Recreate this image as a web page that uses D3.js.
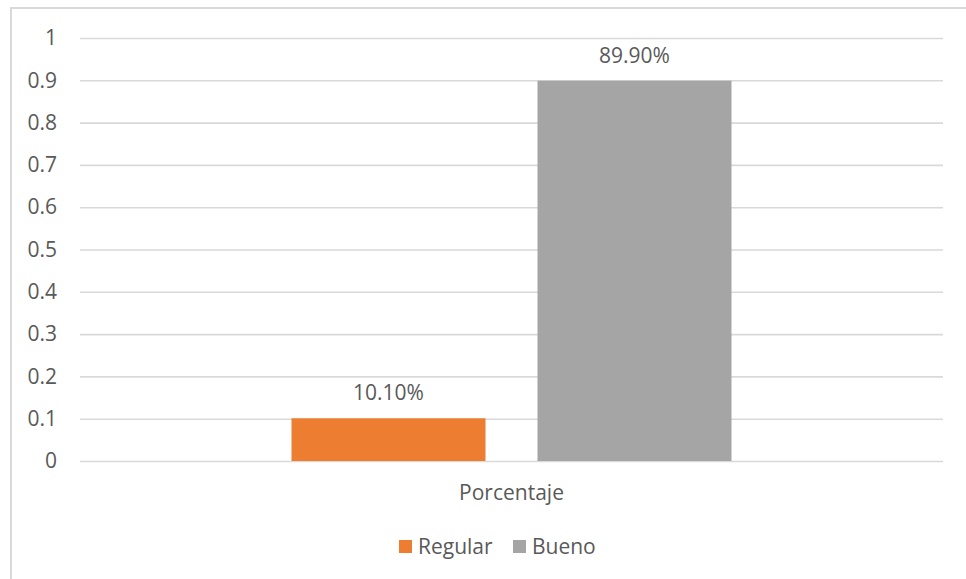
<!DOCTYPE html>
<html>
<head>
<meta charset="utf-8">
<script src="https://cdn.jsdelivr.net/npm/d3@7"></script>
<style>
  html, body { margin: 0; padding: 0; background: #fff; }
  svg { display: block; }
  text { font-family: "Open Sans", sans-serif; fill: #595959; }
</style>
</head>
<body>
<div id="chart"></div>
<script>
const categories = ["Porcentaje"];
const seriesNames = ["Regular", "Bueno"];
const seriesValues = [0.101, 0.899];
const seriesColors = ["#ED7D31", "#A5A5A5"];
const yTicks = [0, 0.1, 0.2, 0.3, 0.4, 0.5, 0.6, 0.7, 0.8, 0.9, 1];

const W = 966, H = 579;
const margin = { left: 80, right: 23, top: 38, bottom: 118 };
const FS = 21;

const svg = d3.select("#chart").append("svg").attr("width", W).attr("height", H);

// chart border
svg.append("rect")
  .attr("x", 11).attr("y", 8).attr("width", 970).attr("height", 600)
  .attr("fill", "none").attr("stroke", "#d9d9d9").attr("stroke-width", 2);

const y = d3.scaleLinear().domain([0, 1]).range([H - margin.bottom, margin.top]);
const x0 = d3.scaleBand().domain(categories)
  .range([margin.left, W - margin.right]).paddingInner(0).paddingOuter(0.4807);
const x1 = d3.scaleBand().domain(seriesNames)
  .range([0, x0.bandwidth()]).paddingInner(0.2114).paddingOuter(0);

// gridlines
const yAxis = d3.axisLeft(y).tickValues(yTicks)
  .tickSize(-(W - margin.right - margin.left))
  .tickFormat(d => String(d)).tickPadding(23);
const gy = svg.append("g").attr("transform", `translate(${margin.left},0)`).call(yAxis);
gy.select(".domain").remove();
gy.selectAll(".tick line").attr("stroke", "#d9d9d9").attr("stroke-width", 1.6);
gy.selectAll(".tick text").attr("font-size", FS).attr("fill", "#595959")
  .style("font-family", "'Open Sans', sans-serif");

// bars
const data = seriesNames.map((s, i) => ({ cat: categories[0], name: s, value: seriesValues[i], color: seriesColors[i] }));
svg.append("g").selectAll("rect").data(data).join("rect")
  .attr("x", d => x0(d.cat) + x1(d.name))
  .attr("y", d => y(d.value))
  .attr("width", x1.bandwidth())
  .attr("height", d => y(0) - y(d.value))
  .attr("fill", d => d.color);

// data labels
svg.append("g").selectAll("text").data(data).join("text")
  .attr("x", d => x0(d.cat) + x1(d.name) + x1.bandwidth() / 2)
  .attr("y", d => y(d.value) - 18)
  .attr("text-anchor", "middle")
  .attr("font-size", FS)
  .text(d => (d.value * 100).toFixed(2) + "%");

// x axis label
const xAxis = d3.axisBottom(x0).tickSize(0).tickPadding(24);
const gx = svg.append("g").attr("transform", `translate(0,${y(0)})`).call(xAxis);
gx.select(".domain").remove();
gx.selectAll(".tick text").attr("font-size", FS).attr("fill", "#595959")
  .style("font-family", "'Open Sans', sans-serif");

// legend
const legendItems = [
  { name: seriesNames[0], color: seriesColors[0], x: 399 },
  { name: seriesNames[1], color: seriesColors[1], x: 513 }
];
const lg = svg.append("g");
legendItems.forEach(it => {
  lg.append("rect").attr("x", it.x).attr("y", 540).attr("width", 13).attr("height", 13).attr("fill", it.color);
  lg.append("text").attr("x", it.x + 19).attr("y", 554).attr("font-size", FS).text(it.name);
});
</script>
</body>
</html>
